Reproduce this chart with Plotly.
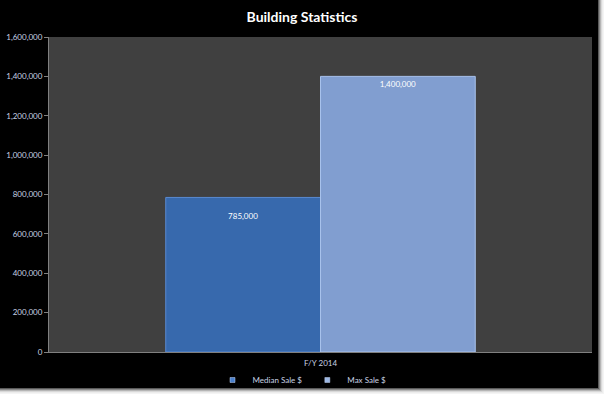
import plotly.graph_objects as go

categories = ["F/Y 2014"]
median_sale = [785000]
max_sale = [1400000]
series_names = ["Median Sale $", "Max Sale $"]
y_ticks = [0, 200000, 400000, 600000, 800000, 1000000, 1200000, 1400000, 1600000]

W, H = 604, 394
ML, MR, MT, MB = 49, 12, 37, 42
PW, PH = W - ML - MR, H - MT - MB

def px_x(px):
    return (px - ML) / PW

def px_y(py):
    return (H - MB - py) / PH

fill_colors = ["#3769ad", "#819ed0"]
edge_colors = ["#5a8ad0", "#a8c2ec"]
legend_colors = ["#4a80cc", "#9cb8e4"]
label_templates = ["\u00a0<br>%{text}", "%{text}"]

fig = go.Figure()
for vals, name, fc, ec, tt in zip([median_sale, max_sale], series_names, fill_colors,
                                  edge_colors, label_templates):
    fig.add_trace(go.Bar(
        x=categories, y=vals, name=name, showlegend=False, legendgroup=name,
        marker=dict(color=fc, line=dict(color=ec, width=1)),
        text=[f"{v:,}" for v in vals], textposition="inside",
        insidetextanchor="end", texttemplate=tt,
        textfont=dict(color="#ffffff", size=8, family="Lato"),
        hoverinfo="skip",
    ))
for name, lc in zip(series_names, legend_colors):
    fig.add_trace(go.Scatter(
        x=[None], y=[None], mode="markers", name=name, legendgroup=name,
        marker=dict(symbol="square", size=5, color=lc, line=dict(color="#c0d0f0", width=0.5)),
    ))

shapes = []
shade = ["#5a5a5a", "#8a8a8a", "#b5b5b5", "#d8d8d8", "#ececec", "#f4f4f4"]
for i, c in enumerate(shade):
    shapes.append(dict(type="rect", xref="paper", yref="paper",
                       x0=px_x(598 + i), x1=px_x(599 + i), y0=px_y(0), y1=px_y(H),
                       fillcolor=c, line=dict(width=0), layer="above"))
    shapes.append(dict(type="rect", xref="paper", yref="paper",
                       x0=px_x(0), x1=px_x(599 + i), y0=px_y(388 + i), y1=px_y(389 + i),
                       fillcolor=c, line=dict(width=0), layer="above"))

fig.update_layout(
    width=W, height=H,
    margin=dict(l=ML, r=MR, t=MT, b=MB, autoexpand=False),
    paper_bgcolor="#000000",
    plot_bgcolor="#404040",
    font=dict(family="Lato", color="#c8d2e4", size=8),
    title=dict(text="<b>Building Statistics</b>", x=0.5, xref="container", xanchor="center",
               yref="container", y=1 - 17 / H, yanchor="middle",
               font=dict(size=14, color="#ffffff", family="Lato")),
    barmode="group",
    bargap=0.43,
    bargroupgap=0,
    showlegend=True,
    legend=dict(orientation="h", x=0.5, xanchor="center", xref="container", yref="container",
                y=1 - 380 / H, yanchor="middle",
                font=dict(size=8, color="#c8d2e4"), itemwidth=30, tracegroupgap=0,
                bgcolor="rgba(0,0,0,0)"),
    xaxis=dict(showgrid=False, showline=True, linecolor="#808080", linewidth=1,
               ticks="", tickfont=dict(size=8, color="#c8d2e4"), automargin=False,
               ticklabelstandoff=3),
    yaxis=dict(range=[0, 1600000], tickvals=y_ticks, tickformat=",",
               showgrid=False, showline=True, linecolor="#808080", linewidth=1,
               ticks="outside", ticklen=4, tickcolor="#808080", zeroline=False,
               tickfont=dict(size=8, color="#c8d2e4"), automargin=False),
    shapes=shapes,
)

fig.write_html("out.html", config={"displayModeBar": False},
               post_script="document.body.style.margin='0';document.body.style.background='#000';")
